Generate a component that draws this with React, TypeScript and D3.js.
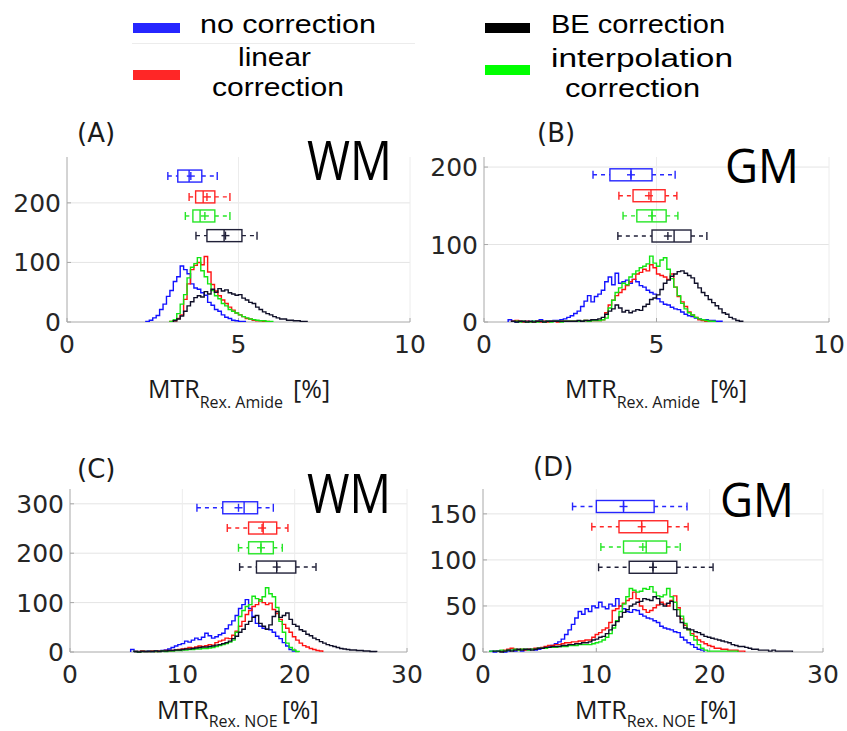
import React from 'react';
import * as d3 from 'd3';

// Series order: no correction (blue), linear (red), interpolation (green), BE (black)
const SERIES = ['no correction', 'linear correction', 'interpolation correction', 'BE correction'];
const HIST_COLORS = ['#1212ff', '#ff1212', '#12e612', '#0f0f28'];
const BOX_COLORS = ['#2626ff', '#ff2626', '#26e626', '#202038'];

// ---------- Panel A: MTR Rex. Amide, WM ----------
const A_BIN = 0.1;
const A_START = [2.3, 3.0, 3.0, 3.1];
const A_BLUE = [1, 3, 7, 11, 21, 30, 43, 53, 68, 76, 94, 88, 81, 64, 57, 55, 49, 45, 33, 28, 21, 18, 12, 8, 6, 3, 2, 1, 1];
const A_RED = [1, 2, 6, 12, 38, 64, 88, 95, 100, 96, 110, 84, 63, 52, 44, 37, 31, 25, 20, 15, 12, 9, 6, 5, 3, 2, 2, 1, 1];
const A_GREEN = [1, 4, 14, 30, 46, 74, 92, 98, 108, 86, 76, 64, 53, 44, 39, 31, 27, 21, 18, 15, 12, 9, 7, 5, 4, 3, 2, 2, 1, 1];
const A_BLACK = [2, 5, 10, 18, 27, 34, 41, 44, 42, 51, 47, 55, 50, 56, 52, 54, 49, 47, 45, 46, 40, 37, 33, 31, 25, 21, 17, 14, 12, 9, 7, 5, 5, 3, 3, 2, 2, 1, 1];
// box: [whiskerLow, q1, median, q3, whiskerHigh, mean]
const A_BOX_BLUE = [2.94, 3.23, 3.56, 3.93, 4.38, 3.61];
const A_BOX_RED = [3.56, 3.75, 3.97, 4.31, 4.75, 4.08];
const A_BOX_GREEN = [3.45, 3.67, 3.88, 4.31, 4.75, 4.02];
const A_BOX_BLACK = [3.76, 4.08, 4.58, 5.1, 5.54, 4.62];
const A_BOX_ROWS = [245, 210, 178, 145];

// ---------- Panel B: MTR Rex. Amide, GM ----------
const B_BIN = 0.1;
const B_START = [0.7, 0.8, 0.9, 0.8];
const B_BLUE = [3, 1, 0, 1, 0, 1, 0, 1, 1, 3, 1, 1, 1, 2, 2, 3, 4, 6, 8, 11, 14, 20, 27, 34, 26, 33, 36, 41, 52, 58, 48, 63, 50, 52, 54, 50, 55, 52, 47, 45, 41, 38, 36, 30, 26, 23, 22, 19, 17, 16, 13, 10, 8, 7, 5, 4, 3, 3, 2, 2, 1, 1];
const B_RED = [1, 2, 1, 0, 1, 0, 0, 1, 0, 1, 0, 1, 1, 0, 1, 1, 1, 1, 1, 1, 1, 2, 1, 2, 2, 2, 3, 12, 22, 28, 34, 38, 42, 47, 52, 55, 62, 64, 68, 66, 74, 70, 62, 60, 58, 55, 62, 45, 33, 26, 20, 13, 9, 6, 3, 2, 1, 1];
const B_GREEN = [1, 0, 1, 0, 0, 1, 0, 1, 0, 1, 0, 1, 1, 0, 1, 1, 1, 1, 1, 1, 2, 1, 2, 2, 2, 3, 5, 18, 28, 38, 44, 50, 48, 58, 62, 66, 70, 72, 75, 85, 76, 72, 80, 83, 68, 56, 45, 34, 24, 17, 12, 9, 6, 4, 3, 2, 1, 1];
const B_BLACK = [1, 0, 1, 1, 0, 1, 0, 1, 1, 0, 1, 1, 1, 1, 1, 1, 1, 1, 1, 2, 1, 2, 2, 3, 3, 4, 6, 10, 14, 17, 22, 18, 13, 15, 12, 14, 16, 15, 20, 23, 29, 31, 35, 42, 50, 54, 59, 62, 65, 66, 63, 60, 57, 50, 44, 38, 34, 29, 25, 21, 17, 12, 10, 6, 4, 2, 1];
const B_BOX_BLUE = [3.16, 3.65, 4.26, 4.87, 5.54, 4.26];
const B_BOX_RED = [3.91, 4.32, 4.84, 5.25, 5.59, 4.78];
const B_BOX_GREEN = [4.03, 4.43, 4.87, 5.28, 5.62, 4.87];
const B_BOX_BLACK = [3.88, 4.87, 5.51, 6.0, 6.46, 5.33];
const B_BOX_ROWS = [190, 163, 137, 111];

// ---------- Panel C: MTR Rex. NOE, WM ----------
const C_BIN = 0.3;
const C_START = [5.4, 5.7, 5.7, 5.7];
const C_BLUE = [5, 1, 1, 2, 1, 2, 1, 2, 2, 3, 4, 6, 9, 12, 15, 17, 22, 20, 24, 28, 25, 30, 38, 33, 28, 31, 35, 38, 47, 55, 63, 74, 88, 96, 106, 88, 72, 58, 52, 48, 46, 45, 40, 32, 27, 19, 12, 5, 2];
const C_RED = [1, 1, 2, 1, 1, 2, 1, 2, 2, 3, 2, 3, 4, 5, 6, 7, 9, 8, 10, 12, 11, 13, 15, 14, 19, 22, 24, 28, 27, 34, 42, 52, 62, 76, 84, 92, 96, 106, 100, 96, 99, 86, 78, 66, 56, 48, 40, 31, 24, 18, 13, 10, 7, 5, 3, 2];
const C_GREEN = [1, 0, 1, 1, 1, 1, 1, 1, 2, 1, 2, 2, 3, 3, 4, 4, 5, 5, 6, 6, 7, 7, 8, 9, 11, 13, 15, 17, 20, 24, 40, 72, 84, 92, 96, 113, 108, 103, 112, 130, 118, 112, 90, 62, 40, 18, 9, 4, 1];
const C_BLACK = [1, 0, 1, 1, 1, 1, 2, 1, 2, 2, 3, 3, 4, 4, 5, 6, 6, 7, 8, 9, 10, 10, 11, 12, 14, 15, 17, 19, 22, 27, 32, 40, 46, 56, 62, 70, 74, 58, 52, 46, 55, 72, 82, 70, 74, 79, 66, 56, 52, 45, 42, 36, 33, 28, 25, 21, 18, 15, 13, 11, 9, 7, 6, 5, 4, 4, 3, 3, 2, 2, 1, 1];
const C_BOX_BLUE = [11.3, 13.6, 15.5, 16.7, 18.1, 15.0];
const C_BOX_RED = [14.0, 15.9, 17.2, 18.4, 19.4, 17.1];
const C_BOX_GREEN = [15.0, 15.9, 17.0, 18.1, 18.9, 17.0];
const C_BOX_BLACK = [15.1, 16.6, 18.4, 20.1, 21.9, 18.4];
const C_BOX_ROWS = [292, 251, 211, 172];

// ---------- Panel D: MTR Rex. NOE, GM ----------
const D_BIN = 0.3;
const D_START = [0.6, 1.5, 0.6, 0.9];
const D_BLUE = [1, 0, 1, 1, 0, 1, 2, 1, 2, 1, 2, 2, 3, 2, 3, 4, 5, 6, 7, 9, 11, 14, 19, 24, 30, 37, 44, 41, 47, 44, 50, 48, 54, 49, 47, 52, 50, 58, 50, 47, 44, 43, 46, 45, 41, 39, 37, 36, 34, 32, 28, 26, 25, 24, 22, 21, 16, 13, 10, 8, 5, 3, 2];
const D_RED = [1, 2, 3, 4, 3, 2, 3, 2, 3, 3, 4, 4, 5, 6, 7, 7, 8, 8, 9, 10, 10, 11, 11, 12, 12, 13, 13, 16, 19, 21, 24, 26, 32, 45, 47, 50, 53, 56, 58, 65, 58, 50, 46, 43, 45, 48, 51, 54, 52, 50, 56, 61, 48, 36, 29, 24, 20, 17, 13, 11, 9, 7, 6, 4, 4, 3, 3, 2, 2, 2, 1, 1];
const D_GREEN = [1, 1, 1, 2, 1, 2, 2, 3, 2, 3, 3, 2, 3, 3, 4, 4, 4, 5, 5, 5, 6, 6, 6, 7, 7, 7, 8, 8, 8, 8, 9, 10, 11, 13, 16, 20, 26, 34, 44, 52, 60, 69, 67, 65, 66, 69, 68, 71, 65, 61, 60, 62, 69, 60, 54, 46, 39, 31, 24, 18, 13, 8, 4, 2, 1, 1, 1, 1, 1, 1, 1, 1, 1];
const D_BLACK = [1, 1, 0, 1, 2, 1, 2, 3, 2, 3, 3, 2, 3, 4, 4, 5, 5, 6, 6, 6, 7, 7, 8, 8, 9, 9, 10, 10, 11, 13, 14, 16, 17, 20, 24, 29, 33, 38, 43, 46, 50, 52, 54, 55, 58, 57, 56, 60, 58, 52, 50, 53, 55, 46, 39, 32, 26, 25, 24, 22, 21, 19, 17, 16, 15, 14, 13, 12, 11, 10, 8, 7, 6, 6, 5, 4, 3, 3, 2, 2, 2, 1, 2, 1, 1, 1, 1, 1];
const D_BOX_BLUE = [7.9, 10.0, 12.4, 15.1, 18.0, 12.4];
const D_BOX_RED = [9.6, 12.0, 14.0, 16.3, 18.1, 14.0];
const D_BOX_GREEN = [10.4, 12.4, 14.4, 16.2, 17.4, 14.1];
const D_BOX_BLACK = [10.2, 12.9, 15.0, 17.1, 20.3, 15.0];
const D_BOX_ROWS = [158, 136, 114, 92];

// ---------- Ticks ----------
const X_TICKS_AMIDE = [0, 5, 10];
const X_TICKS_NOE = [0, 10, 20, 30];
const Y_TICKS_A = [0, 100, 200];
const Y_TICKS_B = [0, 100, 200];
const Y_TICKS_C = [0, 100, 200, 300];
const Y_TICKS_D = [0, 50, 100, 150];

const PANELS = [
  {
    letter: '(A)', tissue: 'WM', sub: 'Rex. Amide', xMax: 10, yMax: 277,
    xTicks: X_TICKS_AMIDE, yTicks: Y_TICKS_A, bin: A_BIN, starts: A_START,
    hists: [A_BLUE, A_RED, A_GREEN, A_BLACK], boxes: [A_BOX_BLUE, A_BOX_RED, A_BOX_GREEN, A_BOX_BLACK], rows: A_BOX_ROWS,
    left: 67, right: 410, top: 157, bottom: 322,
    letterX: 77, letterY: 142, tissueX: 307, tissueY: 180, tissueSize: 54, tissueLen: 85,
    labelX: 148, labelY: 398, subDy: 10, subGap: 10,
  },
  {
    letter: '(B)', tissue: 'GM', sub: 'Rex. Amide', xMax: 10, yMax: 213,
    xTicks: X_TICKS_AMIDE, yTicks: Y_TICKS_B, bin: B_BIN, starts: B_START,
    hists: [B_BLUE, B_RED, B_GREEN, B_BLACK], boxes: [B_BOX_BLUE, B_BOX_RED, B_BOX_GREEN, B_BOX_BLACK], rows: B_BOX_ROWS,
    left: 484, right: 829, top: 157, bottom: 322,
    letterX: 537, letterY: 142, tissueX: 725, tissueY: 183, tissueSize: 47, tissueLen: 74,
    labelX: 565, labelY: 398, subDy: 10, subGap: 10,
  },
  {
    letter: '(C)', tissue: 'WM', sub: 'Rex. NOE', xMax: 30, yMax: 330,
    xTicks: X_TICKS_NOE, yTicks: Y_TICKS_C, bin: C_BIN, starts: C_START,
    hists: [C_BLUE, C_RED, C_GREEN, C_BLACK], boxes: [C_BOX_BLUE, C_BOX_RED, C_BOX_GREEN, C_BOX_BLACK], rows: C_BOX_ROWS,
    left: 70, right: 407, top: 489, bottom: 652,
    letterX: 77, letterY: 478, tissueX: 307, tissueY: 513, tissueSize: 54, tissueLen: 84,
    labelX: 157, labelY: 719, subDy: 8, subGap: 4,
  },
  {
    letter: '(D)', tissue: 'GM', sub: 'Rex. NOE', xMax: 30, yMax: 177,
    xTicks: X_TICKS_NOE, yTicks: Y_TICKS_D, bin: D_BIN, starts: D_START,
    hists: [D_BLUE, D_RED, D_GREEN, D_BLACK], boxes: [D_BOX_BLUE, D_BOX_RED, D_BOX_GREEN, D_BOX_BLACK], rows: D_BOX_ROWS,
    left: 483, right: 823, top: 489, bottom: 652,
    letterX: 533, letterY: 476, tissueX: 720, tissueY: 517, tissueSize: 47, tissueLen: 74,
    labelX: 575, labelY: 719, subDy: 8, subGap: 4,
  },
];

const TICK_FONT = '"DejaVu Sans", sans-serif';
const LABEL_FONT = '"Open Sans", sans-serif';
const LEGEND_FONT = '"Liberation Sans", Arial, sans-serif';

function Panel({ p }: { p: any }) {
  const x = d3.scaleLinear().domain([0, p.xMax]).range([p.left, p.right]);
  const y = d3.scaleLinear().domain([0, p.yMax]).range([p.bottom, p.top]);
  const line = d3
    .line<[number, number]>()
    .x((d) => x(d[0]))
    .y((d) => y(d[1]))
    .curve(d3.curveStepAfter);

  const histPaths = p.hists.map((counts: number[], si: number) => {
    const s = p.starts[si];
    const pts: [number, number][] = [[s, 0]];
    counts.forEach((c, i) => pts.push([s + i * p.bin, c]));
    pts.push([s + counts.length * p.bin, 0]);
    return line(pts) as string;
  });

  const boxH = 6;
  const capH = 4;
  return (
    <g>
      {p.yTicks.filter((t: number) => t > 0).map((t: number) => (
        <line key={'gy' + t} x1={p.left} x2={p.right} y1={y(t)} y2={y(t)} stroke="#e4e4e4" strokeWidth={1} />
      ))}
      {p.xTicks.filter((t: number) => t > 0).map((t: number) => (
        <line key={'gx' + t} x1={x(t)} x2={x(t)} y1={p.bottom} y2={p.top} stroke="#ececec" strokeWidth={1} />
      ))}
      <line x1={p.left} x2={p.left} y1={p.top} y2={p.bottom} stroke="#a8a8a8" strokeWidth={1} />
      <line x1={p.left} x2={p.right} y1={p.bottom} y2={p.bottom} stroke="#a8a8a8" strokeWidth={1} />
      {p.xTicks.map((t: number) => (
        <line key={'tx' + t} x1={x(t)} x2={x(t)} y1={p.bottom} y2={p.bottom - 4} stroke="#a8a8a8" />
      ))}
      {p.yTicks.map((t: number) => (
        <line key={'ty' + t} x1={p.left} x2={p.left + 4} y1={y(t)} y2={y(t)} stroke="#a8a8a8" />
      ))}
      {p.yTicks.map((t: number) => (
        <text key={'ly' + t} x={p.left - 6} y={y(t) + 9} textAnchor="end" fontFamily={TICK_FONT} fontSize={25} fill="#262626">
          {t}
        </text>
      ))}
      {p.xTicks.map((t: number) => (
        <text key={'lx' + t} x={x(t)} y={p.bottom + 31} textAnchor="middle" fontFamily={TICK_FONT} fontSize={25} fill="#262626">
          {t}
        </text>
      ))}
      {histPaths.map((d: string, i: number) => (
        <path key={'h' + i} d={d} fill="none" stroke={HIST_COLORS[i]} strokeWidth={1.4} strokeLinejoin="miter" />
      ))}
      {p.boxes.map((b: number[], i: number) => {
        const cy = y(p.rows[i]);
        const c = BOX_COLORS[i];
        const [lo, q1, med, q3, hi, mean] = b;
        return (
          <g key={'b' + i} stroke={c} strokeWidth={1.4} fill="none">
            <line x1={x(lo)} x2={x(q1)} y1={cy} y2={cy} strokeDasharray="4,4" />
            <line x1={x(q3)} x2={x(hi)} y1={cy} y2={cy} strokeDasharray="4,4" />
            <line x1={x(lo)} x2={x(lo)} y1={cy - capH} y2={cy + capH} />
            <line x1={x(hi)} x2={x(hi)} y1={cy - capH} y2={cy + capH} />
            <rect x={x(q1)} y={cy - boxH} width={x(q3) - x(q1)} height={boxH * 2} />
            <line x1={x(med)} x2={x(med)} y1={cy - boxH} y2={cy + boxH} />
            <line x1={x(mean) - 4} x2={x(mean) + 4} y1={cy} y2={cy} />
            <line x1={x(mean)} x2={x(mean)} y1={cy - 4} y2={cy + 4} />
          </g>
        );
      })}
      <text x={p.letterX} y={p.letterY} fontFamily={TICK_FONT} fontSize={26} fill="#1a1a1a">
        {p.letter}
      </text>
      <text x={p.tissueX} y={p.tissueY} fontFamily={LABEL_FONT} fontSize={p.tissueSize} fill="#000" textLength={p.tissueLen} lengthAdjust="spacingAndGlyphs">
        {p.tissue}
      </text>
      <text x={p.labelX} y={p.labelY} fontFamily={LABEL_FONT} fontSize={25} fill="#1a1a1a">
        MTR
        <tspan fontSize={16} dy={p.subDy}>{p.sub}</tspan>
        <tspan dy={-p.subDy} dx={p.subGap}>[%]</tspan>
      </text>
    </g>
  );
}

function Legend() {
  const fs = 25.5;
  return (
    <g fontFamily={LEGEND_FONT} fill="#000">
      <line x1={132} x2={415} y1={43.5} y2={43.5} stroke="#ececec" strokeWidth={1} />
      <rect x={133} y={23} width={47} height={10} fill={BOX_COLORS[0]} />
      <rect x={133} y={70} width={47} height={10} fill={BOX_COLORS[1]} />
      <rect x={485} y={23} width={45} height={10} fill="#000" />
      <rect x={485} y={65} width={45} height={10} fill="#00ff00" />
      <text x={200} y={33} fontSize={fs} textLength={176} lengthAdjust="spacingAndGlyphs">{SERIES[0]}</text>
      <text x={238} y={66} fontSize={fs} textLength={73} lengthAdjust="spacingAndGlyphs">linear</text>
      <text x={212} y={96} fontSize={fs} textLength={132} lengthAdjust="spacingAndGlyphs">correction</text>
      <text x={551} y={33} fontSize={fs} textLength={174} lengthAdjust="spacingAndGlyphs">{SERIES[3]}</text>
      <text x={551} y={67} fontSize={fs} textLength={182} lengthAdjust="spacingAndGlyphs">interpolation</text>
      <text x={565} y={97} fontSize={fs} textLength={135} lengthAdjust="spacingAndGlyphs">correction</text>
    </g>
  );
}

export default function App() {
  return (
    <svg
      width={847}
      height={731}
      viewBox="0 0 847 731"
      style={{ position: 'absolute', left: 0, top: 0, background: '#fff' }}
    >
      <rect x={0} y={0} width={847} height={731} fill="#fff" />
      <Legend />
      {PANELS.map((p, i) => (
        <Panel key={i} p={p} />
      ))}
    </svg>
  );
}
